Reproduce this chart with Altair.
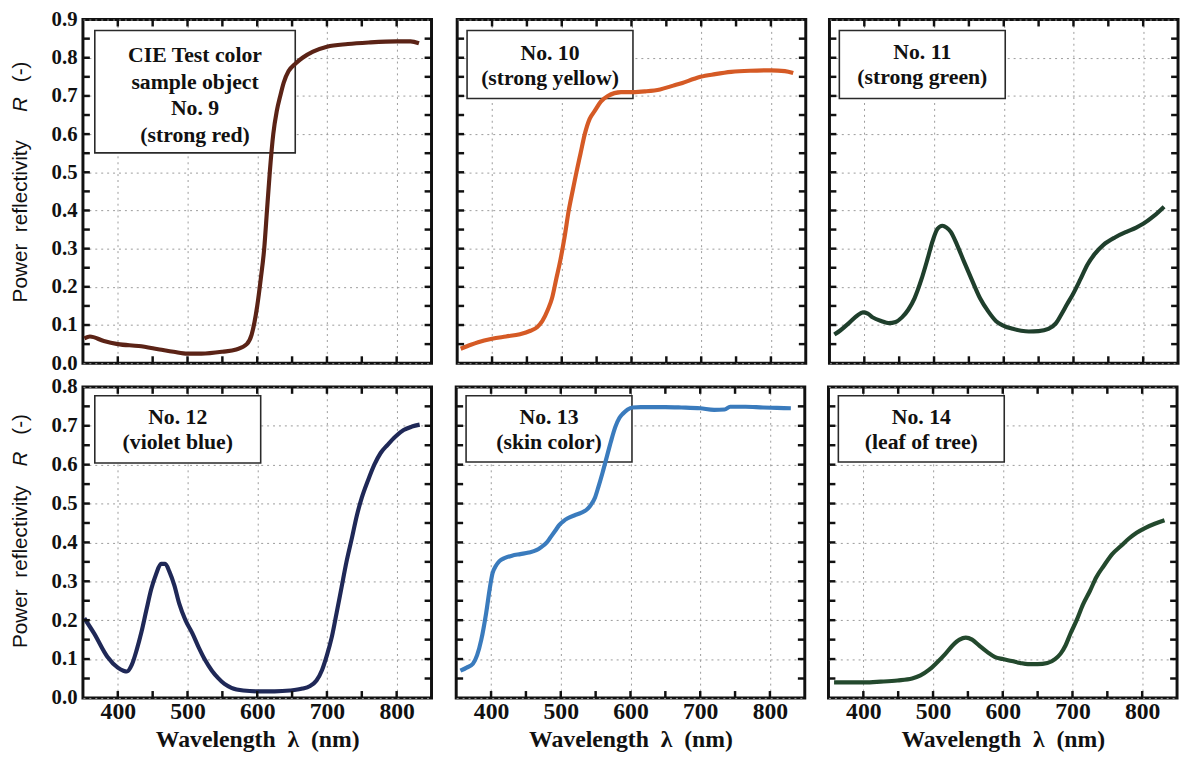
import altair as alt
import pandas as pd

# ---------------- data ----------------
wl_9 = [352, 360, 380, 400, 430, 460, 480, 500, 520, 550, 570, 585, 592, 600, 605, 610, 614, 618, 623, 628, 633, 638, 645, 655, 665, 680, 700, 730, 760, 800, 820, 832]
r_9 = [0.065, 0.07, 0.058, 0.05, 0.045, 0.036, 0.03, 0.025, 0.025, 0.03, 0.036, 0.05, 0.075, 0.15, 0.22, 0.3, 0.4, 0.5, 0.6, 0.66, 0.7, 0.735, 0.765, 0.785, 0.8, 0.816, 0.829, 0.836, 0.84, 0.843, 0.843, 0.838]

wl_10 = [355, 365, 380, 400, 420, 440, 455, 465, 472, 480, 486, 492, 498, 504, 510, 516, 521, 527, 533, 540, 547, 556, 566, 585, 603, 620, 641, 660, 673, 690, 699, 720, 743, 770, 800, 820, 832]
r_10 = [0.038, 0.045, 0.055, 0.064, 0.07, 0.076, 0.085, 0.095, 0.11, 0.14, 0.17, 0.22, 0.27, 0.33, 0.40, 0.455, 0.50, 0.55, 0.60, 0.64, 0.66, 0.685, 0.70, 0.71, 0.71, 0.712, 0.717, 0.727, 0.734, 0.745, 0.75, 0.757, 0.763, 0.766, 0.767, 0.765, 0.76]

wl_11 = [357, 365, 379, 390, 398, 405, 412, 425, 435, 445, 454, 463, 472, 482, 491, 498, 505, 512, 518, 524, 533, 543, 555, 566, 578, 589, 600, 613, 625, 636, 650, 664, 675, 683, 691, 699, 710, 720, 730, 743, 760, 776, 790, 800, 815, 830]
r_11 = [0.075, 0.085, 0.107, 0.125, 0.133, 0.13, 0.12, 0.11, 0.105, 0.108, 0.12, 0.14, 0.17, 0.22, 0.275, 0.32, 0.352, 0.36, 0.355, 0.344, 0.31, 0.266, 0.215, 0.17, 0.135, 0.11, 0.098, 0.09, 0.085, 0.083, 0.084, 0.09, 0.105, 0.129, 0.155, 0.18, 0.22, 0.258, 0.285, 0.31, 0.33, 0.344, 0.355, 0.365, 0.385, 0.41]

wl_12 = [352, 366, 385, 400, 408, 413, 420, 427, 434, 441, 448, 455, 462, 468, 474, 481, 488, 497, 507, 516, 525, 535, 544, 553, 563, 580, 600, 625, 647, 665, 675, 685, 693, 700, 707, 714, 721, 728, 736, 743, 750, 759, 768, 777, 787, 798, 810, 822, 833]
r_12 = [0.205, 0.166, 0.106, 0.078, 0.07, 0.068, 0.085, 0.123, 0.17, 0.226, 0.28, 0.319, 0.345, 0.345, 0.325, 0.29, 0.243, 0.2, 0.166, 0.13, 0.098, 0.07, 0.051, 0.036, 0.026, 0.019, 0.017, 0.017, 0.019, 0.024, 0.03, 0.045, 0.072, 0.11, 0.157, 0.22, 0.285, 0.35, 0.413, 0.47, 0.515, 0.56, 0.6, 0.63, 0.651, 0.672, 0.689, 0.698, 0.703]

wl_13 = [356, 365, 374, 380, 386, 393, 398, 402, 407, 412, 420, 430, 442, 454, 465, 472, 480, 486, 492, 498, 504, 510, 520, 529, 537, 543, 549, 554, 560, 566, 572, 578, 584, 589, 596, 603, 615, 627, 650, 673, 700, 720, 735, 743, 765, 790, 810, 830]
r_13 = [0.07, 0.078, 0.088, 0.11, 0.15, 0.219, 0.28, 0.32, 0.34, 0.352, 0.36, 0.366, 0.37, 0.374, 0.38, 0.388, 0.4, 0.415, 0.43, 0.445, 0.455, 0.462, 0.47, 0.476, 0.484, 0.496, 0.515, 0.543, 0.58, 0.62, 0.66, 0.696, 0.72, 0.731, 0.742, 0.747, 0.748, 0.748, 0.748, 0.747, 0.745, 0.741, 0.742, 0.749, 0.749, 0.747, 0.746, 0.745]

wl_14 = [358, 380, 402, 425, 449, 470, 482, 494, 505, 517, 528, 538, 547, 556, 566, 578, 589, 600, 613, 625, 636, 650, 664, 675, 683, 690, 697, 706, 715, 725, 734, 745, 757, 769, 781, 792, 804, 818, 832]
r_14 = [0.04, 0.04, 0.04, 0.042, 0.045, 0.05, 0.058, 0.072, 0.09, 0.112, 0.135, 0.15, 0.155, 0.15, 0.135, 0.118, 0.105, 0.1, 0.095, 0.09, 0.087, 0.087, 0.09, 0.1, 0.114, 0.135, 0.165, 0.2, 0.24, 0.275, 0.31, 0.34, 0.37, 0.39, 0.41, 0.425, 0.437, 0.448, 0.457]

labels = {
    9: ["CIE Test color", "sample object", "No. 9", "(strong red)"],
    10: ["No. 10", "(strong yellow)"],
    11: ["No. 11", "(strong green)"],
    12: ["No. 12", "(violet blue)"],
    13: ["No. 13", "(skin color)"],
    14: ["No. 14", "(leaf of tree)"],
}
colors = {9: "#5b2316", 10: "#d55a25", 11: "#1f3f2c", 12: "#1f2857", 13: "#3a7bbd", 14: "#23492d"}

x_grid = [400, 500, 600, 700, 800]
x_ticks = [400, 450, 500, 550, 600, 650, 700, 750, 800]
y_grid_top = [0.0, 0.1, 0.2, 0.3, 0.4, 0.5, 0.6, 0.7, 0.8, 0.9]
y_grid_bot = [0.0, 0.1, 0.2, 0.3, 0.4, 0.5, 0.6, 0.7, 0.8]
y_ticks_top = [0.05, 0.1, 0.15, 0.2, 0.25, 0.3, 0.35, 0.4, 0.45, 0.5, 0.55, 0.6, 0.65, 0.7, 0.75, 0.8, 0.85]
y_ticks_bot = [0.05, 0.1, 0.15, 0.2, 0.25, 0.3, 0.35, 0.4, 0.45, 0.5, 0.55, 0.6, 0.65, 0.7, 0.75]

NB = "\u00a0"
x_title = "Wavelength" + NB * 2 + "λ" + NB * 2 + "(nm)"
y_title_a = "Power" + NB * 2 + "reflectivity"

W = 353
H_TOP = 348
H_BOT = 315
SERIF = "Liberation Serif"

series = {9: (wl_9, r_9), 10: (wl_10, r_10), 11: (wl_11, r_11),
          12: (wl_12, r_12), 13: (wl_13, r_13), 14: (wl_14, r_14)}

# annotation boxes (local pixels): x0, x1, y0, y1, centre of first line, line step
boxes = {
    9: (12, 215, 11, 135, 36, 27),
    10: (10, 178, 11, 80, 34, 25),
    11: (10, 178, 11, 80, 33, 25),
    12: (12, 180, 9, 77, 31, 25),
    13: (10, 178, 9, 76, 31, 25),
    14: (10, 178, 9, 76, 31, 25),
}

GRID = dict(grid=True, gridDash=[2, 4], gridColor="#9a9a9a", gridWidth=1)


def panel(num, ymax, H, show_x, show_y, y_grid, y_ticks):
    wl, r = series[num]
    df = pd.DataFrame({"wl": wl, "r": r})
    xs = alt.Scale(domain=[350, 850], nice=False, zero=False)
    ys = alt.Scale(domain=[0, ymax], nice=False, zero=True)

    if show_x:
        xaxis = alt.Axis(values=x_grid, labelFont=SERIF, labelFontWeight="bold", labelFontSize=24,
                         labelColor="#111", labelPadding=2, ticks=False, domain=False,
                         title=x_title, titleFont=SERIF, titleFontSize=24,
                         titleFontWeight="bold", titleColor="#111", titlePadding=4, **GRID)
    else:
        xaxis = alt.Axis(values=x_grid, labels=False, ticks=False, domain=False, title=None,
                         minExtent=0, maxExtent=0, **GRID)
    if show_y:
        yaxis = alt.Axis(values=y_grid, format=".1f", labelFont=SERIF, labelFontWeight="bold",
                         labelFontSize=21, labelColor="#111", labelPadding=6, ticks=False,
                         domain=False, title=None, **GRID)
    else:
        yaxis = alt.Axis(values=y_grid, labels=False, ticks=False, domain=False, title=None,
                         minExtent=0, maxExtent=0, **GRID)

    x0, x1, y0, y1, ty0, step = boxes[num]
    lab = pd.DataFrame({"t": [labels[num][0]]})
    box = alt.Chart(lab).mark_rect(fill="white", stroke="#2a2a2a", strokeWidth=1.6).encode(
        x=alt.value(x0), x2=alt.value(x1), y=alt.value(y0), y2=alt.value(y1))

    line = alt.Chart(df).mark_line(color=colors[num], strokeWidth=4.2, interpolate="monotone").encode(
        x=alt.X("wl:Q", scale=xs, axis=xaxis),
        y=alt.Y("r:Q", scale=ys, axis=yaxis),
    )

    tx = pd.DataFrame({"v": x_ticks})
    ty = pd.DataFrame({"v": y_ticks})
    tick_kw = dict(color="#111", strokeWidth=2.5)
    t_bottom = alt.Chart(tx).mark_rule(**tick_kw).encode(
        x=alt.X("v:Q", scale=xs, axis=xaxis), y=alt.value(H - 7), y2=alt.value(H))
    t_top = alt.Chart(tx).mark_rule(**tick_kw).encode(
        x=alt.X("v:Q", scale=xs, axis=xaxis), y=alt.value(0), y2=alt.value(7))
    t_left = alt.Chart(ty).mark_rule(**tick_kw).encode(
        y=alt.Y("v:Q", scale=ys, axis=yaxis), x=alt.value(0), x2=alt.value(7))
    t_right = alt.Chart(ty).mark_rule(**tick_kw).encode(
        y=alt.Y("v:Q", scale=ys, axis=yaxis), x=alt.value(W - 7), x2=alt.value(W))

    layers = [line, box, line, t_bottom, t_top, t_left, t_right]
    layers = [box, line, t_bottom, t_top, t_left, t_right]
    for i, s in enumerate(labels[num]):
        ldf = pd.DataFrame({"t": [s]})
        layers.append(alt.Chart(ldf).mark_text(font=SERIF, fontWeight="bold", fontSize=22, color="#111",
                                               align="center", baseline="middle").encode(
            text="t:N", x=alt.value((x0 + x1) / 2), y=alt.value(ty0 + i * step)))

    if show_y:
        if H == H_TOP:
            p_end, r_c, m_c = 122, 86, 53
        else:
            p_end, r_c, m_c = 100, 73, 38
        tdf = pd.DataFrame({"a": [y_title_a], "b": ["R"], "c": ["(-)"]})
        common = dict(font="Liberation Sans", fontSize=21, color="#111", angle=270, baseline="middle")
        t1 = alt.Chart(tdf).mark_text(align="right", **common).encode(
            text="a:N", x=alt.value(-63), y=alt.value(p_end))
        t2 = alt.Chart(tdf).mark_text(align="center", fontStyle="italic", **common).encode(
            text="b:N", x=alt.value(-63), y=alt.value(r_c))
        t3 = alt.Chart(tdf).mark_text(align="center", **common).encode(
            text="c:N", x=alt.value(-63), y=alt.value(m_c))
        layers += [t1, t2, t3]

    return alt.layer(*layers).properties(width=W, height=H)


top = alt.hconcat(
    panel(9, 0.9, H_TOP, False, True, y_grid_top, y_ticks_top),
    panel(10, 0.9, H_TOP, False, False, y_grid_top, y_ticks_top),
    panel(11, 0.9, H_TOP, False, False, y_grid_top, y_ticks_top),
    spacing=16,
)
bottom = alt.hconcat(
    panel(12, 0.8, H_BOT, True, True, y_grid_bot, y_ticks_bot),
    panel(13, 0.8, H_BOT, True, False, y_grid_bot, y_ticks_bot),
    panel(14, 0.8, H_BOT, True, False, y_grid_bot, y_ticks_bot),
    spacing=16,
)

chart = alt.vconcat(top, bottom, spacing=-1).properties(
    padding={"left": 8, "top": 2, "right": 0, "bottom": 0},
    background="white",
).configure_view(stroke="#111", strokeWidth=3)

chart.save("out.html", embed_options={"renderer": "svg", "actions": False})
